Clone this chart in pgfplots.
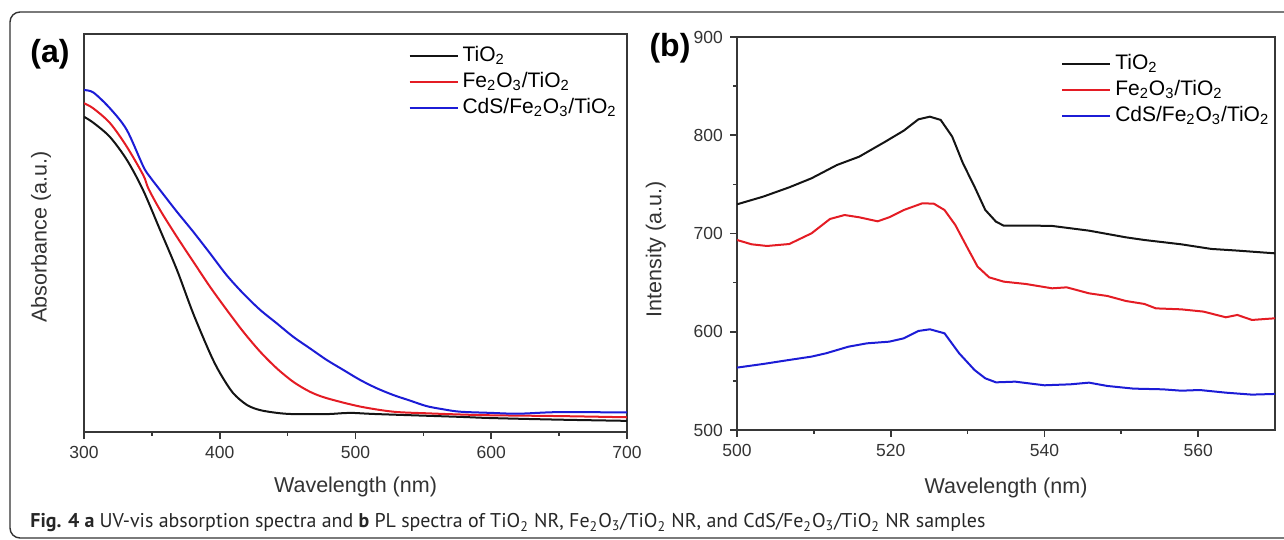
\documentclass[border=0pt]{standalone}
\usepackage{fontspec}
\setmainfont{Liberation Sans}
\newfontfamily\capfont{PT Sans}
\usepackage{pgfplots}
\pgfplotsset{compat=1.18}
\definecolor{cBlack}{RGB}{20,20,20}
\definecolor{cRed}{RGB}{228,28,36}
\definecolor{cBlue}{RGB}{28,28,214}
\definecolor{axisgray}{RGB}{55,55,55}

% shared look of both panels
\pgfplotsset{
  panel/.style={
    scale only axis,
    axis line style={axisgray, line width=0.8pt},
    tick style={axisgray, line width=0.8pt},
    tick align=outside, tick pos=left,
    major tick length=3.5pt, minor tick length=2pt,
    ticklabel style={font=\fontsize{8.75}{10}\selectfont, text=black!80},
    /pgf/number format/assume math mode=true,
    /pgf/number format/1000 sep={},
    label style={font=\fontsize{10.75}{12}\selectfont, text=black!80},
    legend style={draw=none, fill=none, inner sep=0pt, anchor=north west,
      font=\fontsize{10.5}{12}\selectfont, row sep=3pt,
      nodes={inner sep=0pt, text height=7.5pt, text depth=2.5pt},
      /tikz/every odd column/.style={column sep=2pt}},
    legend cell align=left,
    legend image code/.code={\draw[#1] (0pt,0pt) -- (24pt,0pt);},
    every axis plot/.append style={line width=1pt},
  }
}

\begin{document}
\begin{tikzpicture}
\path[use as bounding box] (0,0) rectangle (642pt,270pt);
\draw[black!80, line width=0.7pt, rounded corners=5pt] (5pt,1pt) rectangle (660pt,264pt);

% (a) UV-vis absorption
\begin{axis}[panel,
    at={(42pt,54pt)}, anchor=south west,
    width=271.5pt, height=199pt,
    xmin=300, xmax=700, ymin=0, ymax=1,
    xtick={300,400,...,700}, minor x tick num=1,
    ytick=\empty,
    xlabel={Wavelength (nm)}, ylabel={Absorbance (a.u.)},
    xlabel style={at={(axis description cs:0.5,-0.138)}, anchor=center},
    ylabel style={at={(axis description cs:-0.079,0.49)}, anchor=center},
    legend style={at={(0.597,0.970)}},
    every axis plot/.append style={smooth, tension=0.5},
]
\addplot[cBlack] coordinates {
 (300,0.792)(306.9,0.777)(319.2,0.741)(331.7,0.683)(343.5,0.608)(356,0.508)
 (368.5,0.407)(380.3,0.299)(392.8,0.198)(400.2,0.148)(409.8,0.098)(420,0.068)
 (429.7,0.055)(442.2,0.048)(454,0.045)(479,0.045)(496,0.048)(515.8,0.045)
 (577,0.038)(600,0.035)(650,0.031)(700,0.028)
};
\addlegendentry{TiO\textsubscript{2}}
\addplot[cRed] coordinates {
 (300,0.826)(306.9,0.813)(319.2,0.776)(331.5,0.717)(343.7,0.645)(347.4,0.612)
 (356,0.558)(368.3,0.491)(380.5,0.428)(392.8,0.365)(405.1,0.307)(417.3,0.252)
 (429.7,0.202)(442,0.160)(454.2,0.126)(466.5,0.101)(478.8,0.085)(503.3,0.064)
 (527.8,0.051)(552.4,0.047)(577,0.044)(600,0.042)(650,0.040)(700,0.037)
};
\addlegendentry{Fe\textsubscript{2}O\textsubscript{3}/TiO\textsubscript{2}}
\addplot[cBlue] coordinates {
 (300,0.859)(306.9,0.853)(319.2,0.813)(331.5,0.759)(343.7,0.667)(348.6,0.641)
 (356,0.608)(368.3,0.554)(380.5,0.503)(392.8,0.449)(405.1,0.394)(417.3,0.348)
 (429.7,0.307)(442,0.273)(454.2,0.239)(466.5,0.210)(478.8,0.181)(491,0.156)
 (503.3,0.131)(515.6,0.110)(527.8,0.093)(540.1,0.079)(552.4,0.065)(564.7,0.057)
 (577,0.051)(600,0.048)(620,0.046)(650,0.050)(700,0.049)
};
\addlegendentry{CdS/Fe\textsubscript{2}O\textsubscript{3}/TiO\textsubscript{2}}
\end{axis}

% (b) PL spectra
\begin{axis}[panel,
    at={(368.5pt,55pt)}, anchor=south west,
    width=269pt, height=196.5pt,
    xmin=500, xmax=570, ymin=500, ymax=900,
    xtick={500,520,540,560}, minor x tick num=1,
    ytick={500,600,...,900}, minor y tick num=1,
    xlabel={Wavelength (nm)}, ylabel={Intensity (a.u.)},
    xlabel style={at={(axis description cs:0.5,-0.148)}, anchor=center},
    ylabel style={at={(axis description cs:-0.151,0.46)}, anchor=center},
    legend style={at={(0.602,0.957)}},
]
\addplot[cBlack] coordinates {
 (500,729.7)(503.4,737.5)(506.8,747)(509.7,756.2)(513.0,769.7)(515.9,778.2)
 (519.3,793.5)(521.7,804.7)(523.6,816.2)(525.1,818.9)(526.5,815.6)(528.0,798.6)
 (529.4,771.4)(530.9,747.7)(532.3,724)(533.7,712)(534.7,708)(538.6,708)
 (541.0,707.7)(545.8,702.9)(550.6,696.1)(553.0,693.4)(557.8,689)(561.7,684.3)
 (565.1,682.6)(570,679.8)
};
\addlegendentry{TiO\textsubscript{2}}
\addplot[cRed] coordinates {
 (500,693.4)(501.9,689)(503.9,687.3)(506.8,689.3)(509.7,700.2)(512.1,714.8)
 (514.0,718.8)(515.9,716.5)(518.3,712.4)(519.8,716.5)(521.7,723.9)(524.1,730.7)
 (525.6,730.4)(527.0,723.9)(528.4,708.7)(529.9,686.6)(531.3,666.3)(532.8,655.4)
 (534.7,651)(537.6,648.6)(541.0,644.2)(542.9,645.2)(545.8,639.1)(548.2,636.4)
 (550.6,631.3)(553.0,628.3)(554.5,623.8)(557.8,622.8)(560.7,620.5)(563.6,614.7)
 (565.1,617.1)(567.0,612)(570,613.7)
};
\addlegendentry{Fe\textsubscript{2}O\textsubscript{3}/TiO\textsubscript{2}}
\addplot[cBlue] coordinates {
 (500,563.5)(503.4,567.2)(506.8,571.3)(509.7,574.7)(511.6,578.1)(514.5,584.8)
 (516.9,588.2)(519.8,589.9)(521.7,593.3)(523.6,600.8)(525.1,602.5)(527.0,598.4)
 (528.9,578.1)(530.9,561.1)(532.3,552.6)(533.7,548.5)(536.2,549.2)(540.0,545.5)
 (543.4,546.5)(545.8,548.2)(548.2,544.8)(551.6,542.1)(555.4,541.4)(557.8,540)
 (560.2,540.7)(563.6,538)(567.0,536)(570,536.7)
};
\addlegendentry{CdS/Fe\textsubscript{2}O\textsubscript{3}/TiO\textsubscript{2}}
\end{axis}

\node[font=\fontsize{16}{18}\selectfont\bfseries] at (25pt,243pt) {(a)};
\node[font=\fontsize{16}{18}\selectfont\bfseries] at (335pt,246pt) {(b)};

\node[anchor=base west, text=black!85, inner sep=0pt] at (15pt,6pt)
 {\resizebox{477.5pt}{!}{\capfont\fontsize{10}{12}\selectfont \textbf{Fig. 4 a} UV-vis absorption spectra and \textbf{b} PL spectra of TiO\textsubscript{2} NR, Fe\textsubscript{2}O\textsubscript{3}/TiO\textsubscript{2} NR, and CdS/Fe\textsubscript{2}O\textsubscript{3}/TiO\textsubscript{2} NR samples}};
\end{tikzpicture}
\end{document}
